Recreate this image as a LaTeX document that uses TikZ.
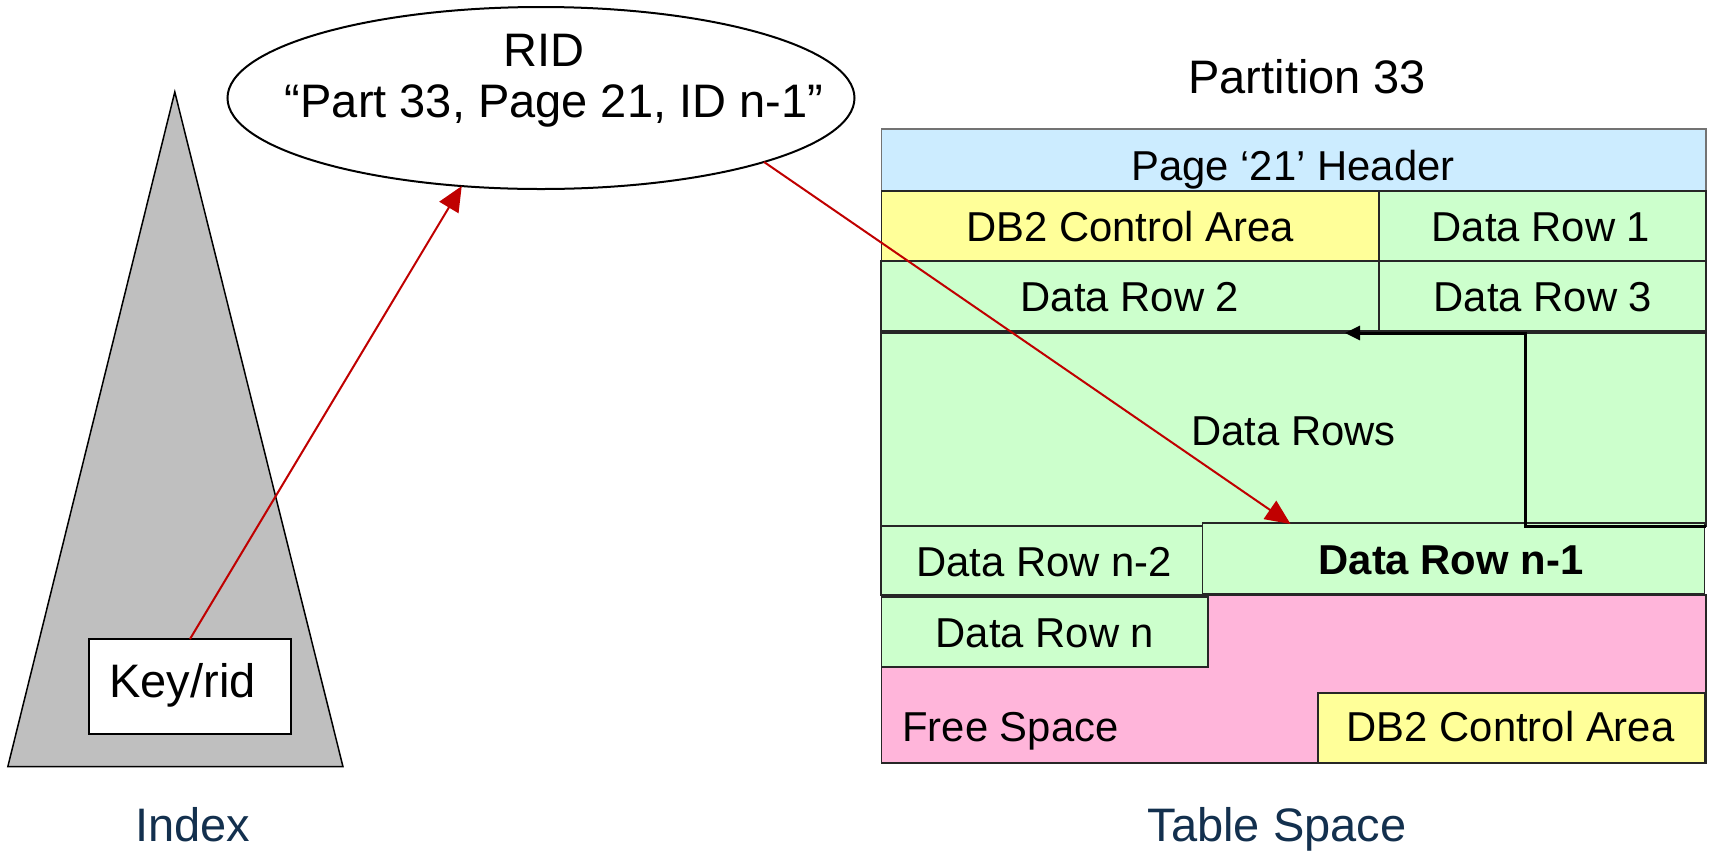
\documentclass[tikz,border=0pt]{standalone}
\usepackage{fontspec}
\setmainfont{Liberation Sans}
\usetikzlibrary{arrows.meta,calc,shapes.geometric}
\definecolor{hdrblue}{HTML}{CCECFF}
\definecolor{ctlyellow}{HTML}{FFFF99}
\definecolor{rowgreen}{HTML}{CCFFCC}
\definecolor{freepink}{HTML}{FFB5DA}
\definecolor{idxgray}{HTML}{BFBFBF}
\definecolor{redA}{HTML}{C00000}
\definecolor{navy}{HTML}{13304E}
\begin{document}
\begin{tikzpicture}[x=0.5pt,y=-0.5pt,
  box/.style={draw=black!85, line width=0.6pt, inner sep=0pt, outer sep=0pt, anchor=north west},
  bigtxt/.style={font=\fontsize{23.5}{28}\selectfont, inner sep=0pt, anchor=base},
  midtxt/.style={font=\fontsize{23.5}{28}\selectfont, inner sep=0pt, anchor=base},
  tbltxt/.style={font=\fontsize{20.9}{25}\selectfont, inner sep=0pt, anchor=base},
  redarrow/.style={draw=redA, line width=1pt, -{Triangle[length=12.5pt,width=11pt]}},
  blkarrow/.style={draw=black, line width=1.5pt, -{Triangle[length=7.5pt,width=7pt]}},
]
\useasboundingbox (0,0) rectangle (1710,858);

% ---------- Index ----------
\draw[fill=idxgray, draw=black, line width=0.75pt] (174.8,92) -- (343,766.7) -- (7.8,766.7) -- cycle;
\node[box, fill=white, draw=black, line width=0.9pt, minimum width=101pt, minimum height=47.5pt] (keyrid) at (89,639) {};
\node[bigtxt, anchor=base west] (keyridtxt) at (109,697) {Key/rid};
\node[bigtxt, text=navy] (indexlbl) at (193,841) {Index};

% ---------- RID ellipse ----------
\node[ellipse, draw=black, line width=1pt, fill=white, inner sep=0pt, outer sep=0pt,
      minimum width=313.5pt, minimum height=91pt] (rid) at (541,98) {};
\node[bigtxt] (ridtxt) at (544,66) {RID};
\node[bigtxt] (ridval) at (554,117) {“Part 33, Page 21, ID n-1”};

% ---------- Table space ----------
\node[midtxt, anchor=base west] (parttxt) at (1188,93) {Partition 33};

\node[box, fill=hdrblue, draw=black!55, minimum width=412.25pt, minimum height=31pt] (hdr) at (881.5,129) {};
\node[box, fill=ctlyellow, minimum width=248.75pt, minimum height=35pt] (ctla) at (881.5,191) {};
\node[box, fill=rowgreen, minimum width=163.5pt, minimum height=35pt] (row1) at (1379,191) {};
\node[box, fill=rowgreen, minimum width=249pt, minimum height=35pt] (row2) at (881,261) {};
\node[box, fill=rowgreen, minimum width=163.5pt, minimum height=35pt] (row3) at (1379,261) {};
\node[box, fill=rowgreen, minimum width=322.25pt, minimum height=96.5pt] (rows) at (881,333) {};
\node[box, fill=rowgreen, minimum width=90.25pt, minimum height=96.5pt] (rowsR) at (1525.5,333) {};
\node[box, fill=freepink, minimum width=412.25pt, minimum height=84pt] (free) at (881.5,595) {};
\node[box, fill=rowgreen, minimum width=160.75pt, minimum height=34.5pt] (rownm2) at (881,526) {};
\node[box, fill=rowgreen, minimum width=251pt, minimum height=35.5pt] (rownm1) at (1202.5,523) {};
\node[box, fill=rowgreen, minimum width=163.25pt, minimum height=35pt] (rown) at (881.5,597) {};
\node[box, fill=ctlyellow, minimum width=193.25pt, minimum height=34.75pt] (ctlb) at (1318,693) {};

\node[tbltxt] (hdrtxt) at (1293,180) {Page ‘21’ Header};
\node[tbltxt] (ctlatxt) at (1130,241.7) {DB2 Control Area};
\node[tbltxt] (row1txt) at (1541,241.7) {Data Row 1};
\node[tbltxt] (row2txt) at (1130,311.7) {Data Row 2};
\node[tbltxt] (row3txt) at (1543,311.7) {Data Row 3};
\node[tbltxt] (rowstxt) at (1293.6,445) {Data Rows};
\node[tbltxt] (rownm2txt) at (1044,576) {Data Row n-2};
\node[tbltxt, font=\fontsize{20.9}{25}\selectfont\bfseries] (rownm1txt) at (1451,574) {Data Row n-1};
\node[tbltxt] (rowntxt) at (1045,647.7) {Data Row n};
\node[tbltxt, anchor=base west] (freetxt) at (902,741.7) {Free Space};
\node[tbltxt] (ctlbtxt) at (1510.6,741.7) {DB2 Control Area};

\node[bigtxt, text=navy] (tslbl) at (1277,841.7) {Table Space};

% ---------- overflow pointer ----------
\draw[blkarrow] (rowsR.south east) -- (rowsR.south west) -- (rowsR.north west) -- ($(rowsR.north west)+(-180.5,0)$);

% ---------- red connectors ----------
\draw[redarrow] (keyrid.north) -- (rid.228);
\draw[redarrow] (rid.344) -- ($(rownm1.north west)+(88,1)$);
\end{tikzpicture}
\end{document}
